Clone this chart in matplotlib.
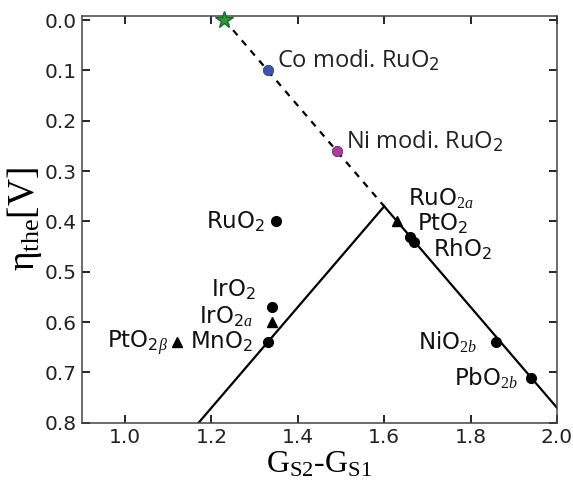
import numpy as np
import matplotlib
matplotlib.use("Agg")
import matplotlib.pyplot as plt

plt.rcParams['mathtext.fontset'] = 'custom'
plt.rcParams['mathtext.rm'] = 'Liberation Serif'
plt.rcParams['mathtext.it'] = 'Liberation Serif:italic'
plt.rcParams['mathtext.sf'] = 'DejaVu Sans'

# volcano lines
left_line_x = [1.17, 1.60]
left_line_y = [0.80, 0.37]
right_line_x = [1.60, 2.00]
right_line_y = [0.37, 0.77]
dash_x = [1.23, 1.60]
dash_y = [0.00, 0.37]

# modified RuO2 points
star_x, star_y = 1.23, 0.0
mod_names = ["Co modi. RuO$_\\mathsf{2}$", "Ni modi. RuO$_\\mathsf{2}$"]
mod_x = [1.33, 1.49]
mod_y = [0.10, 0.26]
mod_colors = ["#3b56b0", "#b03aa0"]

# oxides (circles)
circ_x = [1.35, 1.34, 1.33, 1.66, 1.67, 1.86, 1.94]
circ_y = [0.40, 0.57, 0.64, 0.43, 0.44, 0.64, 0.71]
# oxides (triangles)
tri_x = [1.34, 1.12, 1.63]
tri_y = [0.60, 0.64, 0.40]

labels = [
    ("RuO$_\\mathsf{2}$", 1.325, 0.40, 'right'),
    ("IrO$_\\mathsf{2}$", 1.302, 0.535, 'right'),
    ("IrO$_{\\mathsf{2}a}$", 1.295, 0.59, 'right'),
    ("MnO$_\\mathsf{2}$", 1.295, 0.64, 'right'),
    ("PtO$_{\\mathsf{2}\\beta}$", 1.10, 0.64, 'right'),
    ("RuO$_{2a}$", 1.655, 0.355, 'left'),
    ("PtO$_\\mathsf{2}$", 1.675, 0.405, 'left'),
    ("RhO$_\\mathsf{2}$", 1.713, 0.455, 'left'),
    ("NiO$_{2b}$", 1.815, 0.64, 'right'),
    ("PbO$_{2b}$", 1.91, 0.712, 'right'),
]

fig = plt.figure(figsize=(5.73, 4.86), dpi=100)
ax = fig.add_axes([0.143, 0.130, 0.829, 0.837])

ax.plot(left_line_x, left_line_y, color='black', lw=1.6)
ax.plot(right_line_x, right_line_y, color='black', lw=1.6)
ax.plot(dash_x, dash_y, color='black', lw=1.6, ls=(0, (3, 3)))

ax.plot(circ_x, circ_y, 'o', color='black', ms=7, ls='none', zorder=3)
ax.plot(tri_x, tri_y, '^', color='black', ms=7, ls='none', zorder=3)
ax.plot(star_x, star_y, '*', color='#2a9a3a', mec='#1a6a2a', ms=13, clip_on=False, zorder=4)
for name, x, y, c in zip(mod_names, mod_x, mod_y, mod_colors):
    ax.plot(x, y, 'o', color=c, mec='#333355', mew=0.5, ms=7.5, zorder=4)
    ax.text(x + 0.022, y - 0.018, name, fontsize=17, va='center', ha='left',
            family='Open Sans', color='#222222')

for txt, x, y, ha in labels:
    ax.text(x, y, txt, fontsize=16.5, va='center', ha=ha, color='#111111')

ax.set_xlim(0.9, 2.0)
ax.set_ylim(0.8, -0.008)
ax.set_xticks([1.0, 1.2, 1.4, 1.6, 1.8, 2.0])
ax.set_yticks([0.0, 0.1, 0.2, 0.3, 0.4, 0.5, 0.6, 0.7, 0.8])
ax.xaxis.set_major_formatter(matplotlib.ticker.FormatStrFormatter('%.1f'))
ax.yaxis.set_major_formatter(matplotlib.ticker.FormatStrFormatter('%.1f'))
ax.tick_params(direction='in', length=6, width=1.2, labelsize=14.5, top=True, right=True,
               color='black', labelcolor='#222222', pad=4)
for s in ax.spines.values():
    s.set_linewidth(1.1)
    s.set_color('#444444')

ax.set_xlabel("G$_{\\rm S2}$-G$_{\\rm S1}$", fontsize=23, family='Liberation Serif', labelpad=2)
ax.set_ylabel("$\\mathrm{\\eta}_{\\rm the}$[V]", fontsize=27, family='Liberation Serif', labelpad=0)

fig.savefig("out.png", dpi=100)
